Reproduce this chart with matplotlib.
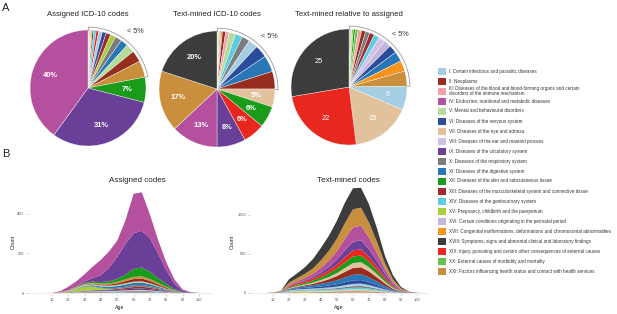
import numpy as np
import matplotlib
matplotlib.use('Agg')
import matplotlib.pyplot as plt
from matplotlib.patches import Arc, Rectangle

plt.rcParams['font.family'] = ['Liberation Sans', 'DejaVu Sans']

# %% data
chapters = ['I', 'II', 'III', 'IV', 'V', 'VI', 'VII', 'VIII', 'IX', 'X', 'XI',
            'XII', 'XIII', 'XIV', 'XV', 'XVI', 'XVII', 'XVIII', 'XIX', 'XX', 'XXI']
chapter_names = [
    'I: Certain infectious and parasitic diseases',
    'II: Neoplasms',
    'III: Diseases of the blood and blood-forming organs and certain\ndisorders of the immune mechanism',
    'IV: Endocrine, nutritional and metabolic diseases',
    'V: Mental and behavioural disorders',
    'VI: Diseases of the nervous system',
    'VII: Diseases of the eye and adnexa',
    'VIII: Diseases of the ear and mastoid process',
    'IX: Diseases of the circulatory system',
    'X: Diseases of the respiratory system',
    'XI: Diseases of the digestive system',
    'XII: Diseases of the skin and subcutaneous tissue',
    'XIII: Diseases of the musculoskeletal system and connective tissue',
    'XIV: Diseases of the genitourinary system',
    'XV: Pregnancy, childbirth and the puerperium',
    'XVI: Certain conditions originating in the perinatal period',
    'XVII: Congenital malformations, deformations and chromosomal abnormalities',
    'XVIII: Symptoms, signs and abnormal clinical and laboratory findings',
    'XIX: Injury, poisoning and certain other consequences of external causes',
    'XX: External causes of morbidity and mortality',
    'XXI: Factors influencing health status and contact with health services',
]
chapter_colors = ['#a6cee3', '#962d1f', '#f4a1a6', '#b5509f', '#b5dc98', '#2b4c9b',
                  '#e2c29c', '#cfc1e3', '#6a3f98', '#7c7c7c', '#2878b8', '#1a9b1a',
                  '#a12a32', '#5dcbe3', '#a9cf3c', '#c6b4dc', '#f7941d', '#3c3c3c',
                  '#e8281f', '#6abf4b', '#c98f3c']

# pie values, chapter order I..XXI
pie_assigned = [1.0, 3.2, 0.2, 40, 2.4, 1.1, 0.3, 0.1, 31, 1.8, 2.1,
                7, 1.3, 0.7, 1.5, 0.1, 0.3, 0.4, 0.7, 0.2, 4.6]
pie_textmined = [2.6, 4.9, 1.0, 13, 1.8, 3.5, 5, 0.3, 8, 2.2, 4.6,
                 6, 0.9, 2.0, 0.3, 0.2, 0.4, 20, 6, 0.3, 17]
pie_relative = [6, 1.0, 0.9, 0.2, 0.3, 2.1, 15, 1.6, 0.2, 1.1, 2.5,
                0.5, 1.2, 1.4, 0.4, 1.8, 2.7, 25, 22, 0.7, 3.8]

ages = [0, 5, 10, 15, 20, 25, 30, 35, 40, 45, 50, 55, 60, 65, 70, 75, 80, 85, 90, 95, 100, 105]

assigned_by_age = {
    'I':     [0, 0, 0, 0.2, 0.8, 1.8, 3.0, 3.8, 4.0, 4.0, 4.2, 4.5, 5.0, 5.0, 4.2, 3.0, 1.8, 0.8, 0.2, 0, 0, 0],
    'II':    [0, 0, 0, 0.2, 0.6, 1.2, 2.0, 3.0, 4.2, 5.8, 8.0, 11.0, 13.5, 14.0, 12.0, 8.5, 5.0, 2.2, 0.6, 0.1, 0, 0],
    'III':   [0, 0, 0, 0, 0.1, 0.1, 0.2, 0.2, 0.2, 0.3, 0.3, 0.4, 0.5, 0.5, 0.4, 0.3, 0.2, 0.1, 0, 0, 0, 0],
    'IV':    [0, 0, 0.5, 5, 18, 25, 37, 58, 78, 82, 82, 120, 200, 195, 120, 68, 40, 22, 6, 2, 0.5, 0],
    'V':     [0, 0, 0, 0.6, 2.0, 3.5, 4.5, 5.0, 5.2, 5.4, 5.6, 6.0, 6.2, 6.0, 5.0, 3.8, 2.4, 1.0, 0.3, 0.1, 0, 0],
    'VI':    [0, 0, 0, 0.2, 0.8, 1.5, 2.2, 2.8, 3.2, 3.6, 4.2, 5.2, 6.2, 6.4, 5.4, 3.8, 2.4, 1.0, 0.3, 0, 0, 0],
    'VII':   [0, 0, 0, 0, 0, 0.1, 0.1, 0.2, 0.2, 0.3, 0.4, 0.5, 0.6, 0.7, 0.6, 0.4, 0.3, 0.1, 0, 0, 0, 0],
    'VIII':  [0, 0, 0, 0, 0, 0, 0, 0, 0, 0, 0.2, 0.2, 0.3, 0.3, 0.3, 0.2, 0.1, 0, 0, 0, 0, 0],
    'IX':    [0, 0, 0, 0, 0, 3, 8, 18, 35, 70, 112, 155, 180, 185, 170, 125, 70, 27, 7, 1.5, 0, 0],
    'X':     [0, 0, 0, 0.2, 0.6, 1.2, 2.0, 2.8, 3.4, 4.2, 5.5, 7.2, 9.0, 9.4, 8.0, 5.8, 3.6, 1.6, 0.4, 0.1, 0, 0],
    'XI':    [0, 0, 0, 0.3, 1.0, 2.2, 3.6, 5.0, 6.5, 7.8, 9.2, 10.8, 12.0, 12.0, 10.0, 7.0, 4.2, 1.8, 0.5, 0.1, 0, 0],
    'XII':   [0, 0, 0, 0.2, 0.8, 2, 4, 6, 8, 11, 15, 24, 40, 45, 36, 24, 14, 6, 1.5, 0.3, 0, 0],
    'XIII':  [0, 0, 0, 0.1, 0.5, 1.0, 1.6, 2.2, 2.8, 3.6, 4.8, 6.5, 8.5, 9.0, 7.5, 5.2, 3.0, 1.2, 0.3, 0, 0, 0],
    'XIV':   [0, 0, 0, 0.1, 0.4, 0.8, 1.2, 1.5, 1.6, 1.8, 2.2, 2.8, 3.4, 3.6, 3.0, 2.2, 1.4, 0.6, 0.2, 0, 0, 0],
    'XV':    [0, 0, 0, 1, 4, 12, 20, 18, 8, 2, 0.5, 0, 0, 0, 0, 0, 0, 0, 0, 0, 0, 0],
    'XVI':   [0, 0, 0, 0, 0, 0.1, 0.2, 0.2, 0.1, 0.1, 0.1, 0.1, 0.1, 0.1, 0.1, 0, 0, 0, 0, 0, 0, 0],
    'XVII':  [0, 0, 0, 0.1, 0.2, 0.3, 0.4, 0.4, 0.4, 0.4, 0.5, 0.5, 0.5, 0.5, 0.4, 0.3, 0.2, 0.1, 0, 0, 0, 0],
    'XVIII': [0, 0, 0, 0.1, 0.2, 0.4, 0.6, 0.8, 0.9, 1.0, 1.2, 1.5, 1.8, 1.9, 1.6, 1.2, 0.8, 0.4, 0.1, 0, 0, 0],
    'XIX':   [0, 0, 0, 0.3, 0.8, 1.2, 1.5, 1.6, 1.7, 1.9, 2.2, 2.6, 3.0, 3.2, 2.8, 2.2, 1.5, 0.7, 0.2, 0, 0, 0],
    'XX':    [0, 0, 0, 0, 0.1, 0.2, 0.2, 0.2, 0.2, 0.2, 0.3, 0.3, 0.4, 0.4, 0.3, 0.3, 0.2, 0.1, 0, 0, 0, 0],
    'XXI':   [0, 0, 0, 0.3, 1.0, 2.0, 3.0, 3.8, 4.5, 5.5, 7.0, 9.0, 11.0, 11.5, 9.5, 6.8, 4.2, 1.8, 0.5, 0.1, 0, 0],
}

textmined_by_age = {
    'I':     [0, 0, 0.3, 1, 7, 9, 11, 13, 15, 17, 20, 25, 29, 30, 25, 18, 11, 5, 1.8, 0.4, 0.1, 0],
    'II':    [0, 0, 0.2, 1, 5, 8, 12, 18, 28, 40, 55, 72, 88, 90, 75, 55, 33, 15, 5, 1, 0.2, 0],
    'III':   [0, 0, 0.1, 0.4, 2, 3, 3.5, 4, 5, 6, 7, 8.5, 10, 10, 8.5, 6, 4, 1.8, 0.6, 0.1, 0, 0],
    'IV':    [0, 0, 0.5, 2, 12, 20, 30, 42, 60, 82, 110, 150, 185, 188, 150, 105, 60, 26, 8, 2, 0.3, 0],
    'V':     [0, 0, 0.3, 1, 6, 8, 9, 10, 11, 12, 13, 15, 17, 18, 15, 11, 7, 3, 1, 0.2, 0, 0],
    'VI':    [0, 0, 0.3, 1, 8, 11, 14, 17, 21, 25, 30, 37, 44, 45, 37, 27, 16, 7, 2.5, 0.5, 0.1, 0],
    'VII':   [0, 0, 0.2, 1, 6, 9, 12, 16, 22, 29, 38, 50, 62, 65, 55, 40, 24, 11, 4, 1, 0.2, 0],
    'VIII':  [0, 0, 0, 0.1, 0.5, 0.7, 0.9, 1.1, 1.4, 1.7, 2.1, 2.6, 3, 3, 2.6, 2, 1.2, 0.5, 0.2, 0, 0, 0],
    'IX':    [0, 0, 0.2, 1, 5, 8, 12, 18, 28, 42, 62, 88, 110, 115, 98, 72, 42, 18, 6, 1.2, 0.2, 0],
    'X':     [0, 0, 0.2, 0.8, 4, 5, 6, 7, 9, 11, 14, 18, 21, 22, 19, 14, 9, 4, 1.5, 0.3, 0, 0],
    'XI':    [0, 0, 0.3, 1.5, 10, 15, 20, 26, 33, 41, 50, 62, 73, 75, 62, 45, 27, 12, 4, 1, 0.2, 0],
    'XII':   [0, 0, 0.3, 1.5, 10, 15, 20, 26, 35, 45, 58, 72, 84, 85, 68, 48, 28, 12, 4, 1, 0.2, 0],
    'XIII':  [0, 0, 0.1, 0.3, 1.5, 2.5, 3, 3.5, 4.5, 5.5, 6.5, 7.5, 8.5, 8.5, 7, 5, 3, 1.3, 0.4, 0.1, 0, 0],
    'XIV':   [0, 0, 0.2, 0.8, 5, 7, 8, 9, 10, 11, 13, 16, 19, 20, 17, 12, 7, 3, 1, 0.2, 0, 0],
    'XV':    [0, 0, 0, 0.5, 4, 6, 6, 4, 1.5, 0.3, 0, 0, 0, 0, 0, 0, 0, 0, 0, 0, 0, 0],
    'XVI':   [0, 0, 0, 0.1, 0.6, 0.9, 1, 1.1, 1.2, 1.3, 1.5, 1.7, 2, 2, 1.7, 1.3, 0.8, 0.3, 0.1, 0, 0, 0],
    'XVII':  [0, 0, 0.1, 0.3, 1.5, 2, 2.2, 2.4, 2.6, 2.8, 3, 3.5, 4, 4, 3.4, 2.5, 1.5, 0.7, 0.2, 0, 0, 0],
    'XVIII': [0, 0, 1, 6, 45, 60, 85, 120, 160, 195, 230, 262, 270, 255, 235, 175, 95, 52, 18, 4, 0.5, 0],
    'XIX':   [0, 0, 0.5, 2, 14, 18, 22, 27, 34, 42, 52, 66, 78, 80, 66, 48, 30, 14, 5, 1, 0.2, 0],
    'XX':    [0, 0, 0, 0.2, 1.2, 1.6, 1.8, 2, 2.1, 2.3, 2.5, 2.8, 3, 3, 2.6, 2, 1.2, 0.5, 0.2, 0, 0, 0],
    'XXI':   [0, 0, 1, 4, 28, 40, 52, 68, 95, 125, 160, 200, 232, 230, 190, 140, 75, 40, 14, 3, 0.5, 0],
}

# %% layout helpers (pixel coordinates, origin top-left)
W, H = 617, 314
fig = plt.figure(figsize=(W / 100, H / 100), dpi=100)


def box(left, top, width, height):
    return [left / W, 1 - (top + height) / H, width / W, height / H]


def draw_pie(cx, cy, values, title, pct):
    r = 58
    lim = 1.45
    half = r * lim
    ax = fig.add_axes(box(cx - half, cy - half, 2 * half, 2 * half))
    order = np.argsort(values, kind='stable')
    vals = np.array(values, dtype=float)[order]
    cols = [chapter_colors[i] for i in order]
    wedges, _ = ax.pie(vals, colors=cols, startangle=90, counterclock=False,
                       radius=1, wedgeprops=dict(edgecolor='white', linewidth=0.25))
    ax.set_xlim(-lim, lim)   # pie() resets the limits, so set them afterwards
    ax.set_ylim(-lim, lim)
    ax.axis('off')
    share = vals / vals.sum() * 100
    for w, v, s in zip(wedges, vals, share):
        if s < 5:
            continue
        th = np.deg2rad((w.theta1 + w.theta2) / 2)
        txt = '%d%%' % round(s) if pct else '%d' % round(v)
        ax.text(0.68 * np.cos(th), 0.68 * np.sin(th), txt, color='white',
                fontsize=5.4, fontweight='bold' if pct else 'normal',
                ha='center', va='center')
    # bracket over the small slices
    span = share[share < 5].sum() * 3.6
    ax.add_patch(Arc((0, 0), 2.1, 2.1, theta1=90 - span, theta2=90,
                     color='#9a9a9a', lw=0.6))
    for a in (90 - span, 90):
        t = np.deg2rad(a)
        ax.plot([1.0 * np.cos(t), 1.05 * np.cos(t)], [1.0 * np.sin(t), 1.05 * np.sin(t)],
                color='#9a9a9a', lw=0.6)
    t = np.deg2rad(90 - span / 2)
    ax.text(1.27 * np.cos(t), 1.27 * np.sin(t), '< 5%', fontsize=5.2,
            color='#333333', ha='center', va='center')
    fig.text(cx / W, 1 - 15 / H, title, fontsize=5.6, ha='center', va='center',
             color='#222222')


draw_pie(88, 88, pie_assigned, 'Assigned ICD-10 codes', True)
draw_pie(217, 89, pie_textmined, 'Text-mined ICD-10 codes', True)
draw_pie(349, 87, pie_relative, 'Text-mined relative to assigned', False)


def draw_area(left, right, xlim, ylim, data, order_vals, yticks, title, title_x, ylab_x):
    ax = fig.add_axes(box(left, 176, right - left, 118))
    order = np.argsort(order_vals, kind='stable')
    ys = [data[chapters[i]] for i in order]
    cols = [chapter_colors[i] for i in order]
    ax.stackplot(ages, *ys, colors=cols, linewidth=0)
    ax.axhline(0, color='#e4e4e4', lw=0.5, zorder=0)
    ax.set_xlim(*xlim)
    ax.set_ylim(*ylim)
    for s in ax.spines.values():
        s.set_visible(False)
    ax.set_xticks(range(10, 101, 10))
    ax.set_yticks(yticks)
    ax.tick_params(labelsize=2.8, length=1.5, width=0.4, pad=1.5,
                   color='#aaaaaa', labelcolor='#555555')
    fig.text(title_x / W, 1 - 181 / H, title, fontsize=5.8, ha='center',
             va='center', color='#222222')
    fig.text(ylab_x / W, 1 - 242 / H, 'Count', fontsize=3.8, rotation=90,
             ha='center', va='center', color='#222222')
    fig.text((left + right) / 2 / W, 1 - 308 / H, 'Age', fontsize=3.8,
             ha='center', va='center', color='#222222')


draw_area(28, 212, (-4.7, 108), (-5, 592), assigned_by_age, pie_assigned,
          [0, 200, 400], 'Assigned codes', 137, 13)
draw_area(250, 428, (-4.4, 106.9), (-13, 1500), textmined_by_age, pie_textmined,
          [0, 500, 1000], 'Text-mined codes', 348, 232)

# %% legend
leg = fig.add_axes([0, 0, 1, 1], zorder=-1)
leg.set_xlim(0, W)
leg.set_ylim(H, 0)
leg.axis('off')
for i in range(len(chapters)):
    y = 71 + 10 * i
    leg.add_patch(Rectangle((438, y - 3.5), 7.5, 7, facecolor=chapter_colors[i],
                            edgecolor='none'))
    leg.text(449, y, chapter_names[i], fontsize=3.3, va='center', ha='left',
             color='#333333', linespacing=1.15)

fig.text(2 / W, 1 - 8 / H, 'A', fontsize=8, ha='left', va='center', color='#222222')
fig.text(2 / W, 1 - 154 / H, 'B', fontsize=8, ha='left', va='center', color='#222222')

fig.savefig('out.png', dpi=100)
